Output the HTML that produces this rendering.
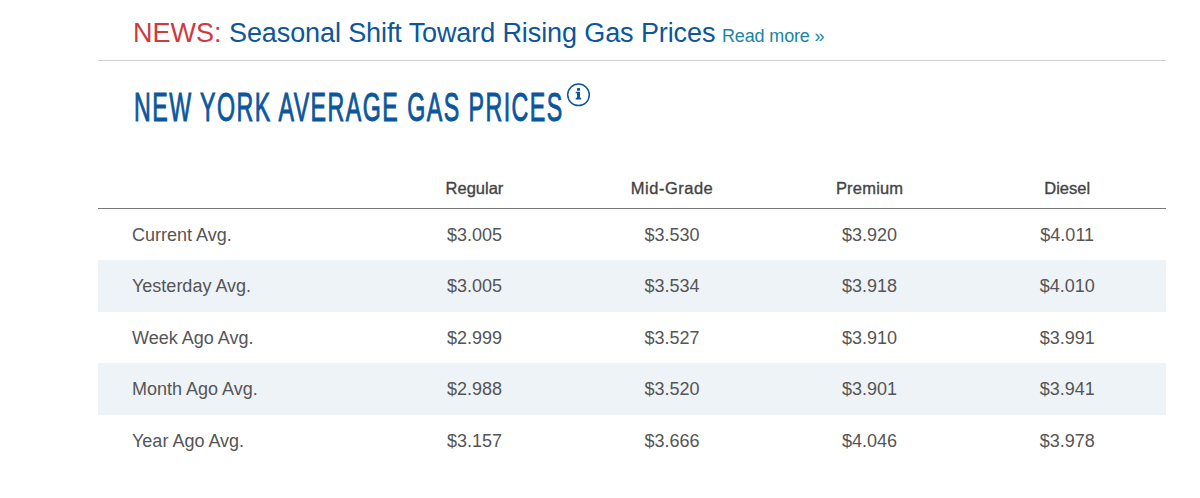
<!DOCTYPE html>
<html><head><meta charset="utf-8">
<style>
html,body{margin:0;padding:0;background:#fff;width:1200px;height:498px;overflow:hidden;}
body{font-family:"Liberation Sans",sans-serif;position:relative;}
.news{position:absolute;top:15px;white-space:nowrap;font-size:27px;line-height:36px;}
.lbl{color:#cf3a40;}
.ttl{color:#0c569c;letter-spacing:-0.1px;}
.news.more{color:#1a85a6;font-size:18px;letter-spacing:-0.15px;top:18px;}
.hr{position:absolute;left:98px;top:60px;width:1068px;height:1px;background:#cfcfcf;}
.h1{position:absolute;left:134px;top:83px;white-space:nowrap;color:#0c569c;font-size:41.5px;line-height:48px;letter-spacing:2.6px;-webkit-text-stroke:1px #0c569c;transform-origin:0 0;transform:scaleX(0.56);}
.info{position:absolute;left:564px;top:80px;}
table{position:absolute;left:98px;top:166px;width:1068px;border-collapse:collapse;table-layout:fixed;}
th{font-weight:normal;font-size:16.5px;color:#444;height:42px;padding:4px 0 0;box-sizing:border-box;text-align:center;border-bottom:1px solid #777;-webkit-text-stroke:0.35px #444;}
td{font-size:18px;color:#555;padding:2px 0 0;text-align:center;}
td.n{text-align:left;padding-left:34px;}
tr.a td{height:49px;}
tr.b td{height:50px;background:#eef3f7;}
</style></head><body>
<div class="news lbl" style="left:133px">NEWS:</div><div class="news ttl" style="left:229px">Seasonal Shift Toward Rising Gas Prices</div><div class="news more" style="left:722px">Read more &raquo;</div>
<div class="hr"></div>
<div class="h1">NEW YORK AVERAGE GAS PRICES</div>
<svg class="info" width="30" height="30" viewBox="0 0 30 30"><circle cx="14.5" cy="14.8" r="10.8" fill="none" stroke="#0c569c" stroke-width="1.5"/><rect x="13" y="8.1" width="3" height="2.7" rx="0.5" fill="#0c569c"/><path d="M11.7 11.8H16V17.7H17.2V19.5H11.7V17.7H13V13.3H11.7Z" fill="#0c569c"/></svg>
<table>
<colgroup><col style="width:26%"><col style="width:18.5%"><col style="width:18.5%"><col style="width:18.5%"><col style="width:18.5%"></colgroup>
<tr><th></th><th>Regular</th><th style="letter-spacing:0.5px">Mid-Grade</th><th style="letter-spacing:0.2px">Premium</th><th>Diesel</th></tr>
<tr class="a"><td class="n">Current Avg.</td><td>$3.005</td><td>$3.530</td><td>$3.920</td><td>$4.011</td></tr>
<tr class="b"><td class="n">Yesterday Avg.</td><td>$3.005</td><td>$3.534</td><td>$3.918</td><td>$4.010</td></tr>
<tr class="a"><td class="n">Week Ago Avg.</td><td>$2.999</td><td>$3.527</td><td>$3.910</td><td>$3.991</td></tr>
<tr class="b"><td class="n">Month Ago Avg.</td><td>$2.988</td><td>$3.520</td><td>$3.901</td><td>$3.941</td></tr>
<tr class="a"><td class="n">Year Ago Avg.</td><td>$3.157</td><td>$3.666</td><td>$4.046</td><td>$3.978</td></tr>
</table>
</body></html>
